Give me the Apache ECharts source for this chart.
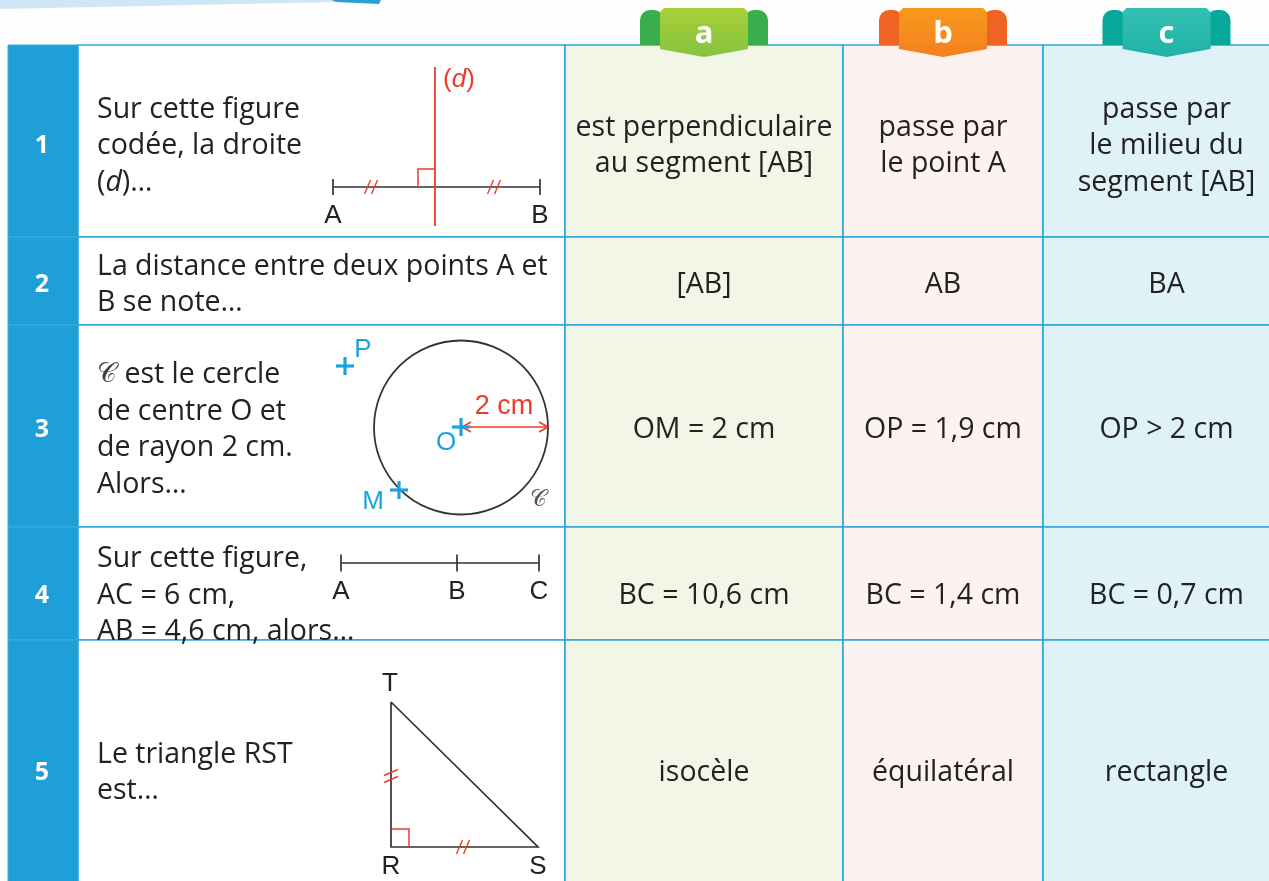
<!DOCTYPE html>
<html>
<head>
<meta charset="utf-8">
<script src="https://cdn.jsdelivr.net/npm/echarts@6/dist/echarts.min.js"></script>
<style>
html, body { margin: 0; padding: 0; background: #fff; }
#chart { width: 1269px; height: 881px; }
</style>
</head>
<body>
<div id="chart"></div>
<script>
// --- table content ---
const rowNumbers = ['1', '2', '3', '4', '5'];
const optionLetters = ['a', 'b', 'c'];
const questions = [
  ['Sur cette figure', 'codée, la droite', '({i|d})…'],
  ['La distance entre deux points A et', 'B se note…'],
  ['{s|𝒞} est le cercle', 'de centre O et', 'de rayon 2 cm.', 'Alors…'],
  ['Sur cette figure,', 'AC = 6 cm,', 'AB = 4,6 cm, alors…'],
  ['Le triangle RST', 'est…']
];
const answersA = [['est perpendiculaire', 'au segment [AB]'], ['[AB]'], ['OM = 2 cm'], ['BC = 10,6 cm'], ['isocèle']];
const answersB = [['passe par', 'le point A'], ['AB'], ['OP = 1,9 cm'], ['BC = 1,4 cm'], ['équilatéral']];
const answersC = [['passe par', 'le milieu du', 'segment [AB]'], ['BA'], ['OP > 2 cm'], ['BC = 0,7 cm'], ['rectangle']];

// --- figure geometry (in page units) ---
const fig1Segment = [[333, 187], [540, 187]];
const fig1Line = [[435, 67], [435, 226]];
const fig1Labels = [['A', 333, 216], ['B', 540, 216]];
const fig3Circle = [461, 427.5, 87];
const fig3Points = [['P', 345, 366], ['O', 461, 427], ['M', 399, 490]];
const fig3Labels = [['P', 363, 350], ['O', 446, 443], ['M', 373, 502]];
const fig4Points = [['A', 341, 563], ['B', 457, 563], ['C', 539, 563]];
const fig5Triangle = [[391, 702], [391, 847], [538, 847]];
const fig5Labels = [['T', 390, 684], ['R', 391, 867], ['S', 538, 867]];

// --- layout ---
const colEdges = [8, 78, 565, 843, 1043, 1290];
const rowEdges = [45, 237, 325, 527, 640, 906];
const colFills = ['#1e9fd8', '#ffffff', '#f2f6e6', '#fcf3f1', '#dff2f8'];
const gridColor = '#2ba6dd';
const textShift = [5, 4, 4, 12, 0];
const lineGap = 36.5;
const tabColors = [
  { flap: '#3aae4a', top: '#a8cf38', bottom: '#86c440' },
  { flap: '#f06323', top: '#f89a1c', bottom: '#f47f20' },
  { flap: '#05a89b', top: '#34c0b3', bottom: '#1fb2a6' }
];
const bodyFont = '"Open Sans", "Noto Sans", sans-serif';
const bodySize = '28.5px ';
const figFont = '"Liberation Sans", Arial, sans-serif';
const inkColor = '#222';
const red = '#ee3a2c';
const blue = '#1ba3dc';

const colCenter = c => (colEdges[c] + colEdges[c + 1]) / 2;
const rowCenter = r => (rowEdges[r] + rowEdges[r + 1]) / 2;

// cells
const cells = [];
for (let r = 0; r < rowNumbers.length; r++) {
  for (let c = 0; c < colEdges.length - 1; c++) cells.push([c, r]);
}

// texts
const texts = [];
const rich = {
  i: { font: 'italic ' + bodySize + bodyFont, fill: inkColor },
  s: { font: '27px "DejaVu Serif", serif', fill: '#444' }
};
function addLines(lines, x, r, align) {
  const mid = rowCenter(r) + textShift[r];
  lines.forEach((t, k) => {
    texts.push({ x, y: mid + (k - (lines.length - 1) / 2) * lineGap, text: t,
      font: bodySize + bodyFont, fill: inkColor, align, rich });
  });
}
rowNumbers.forEach((n, r) => {
  texts.push({ x: 42, y: rowCenter(r) + textShift[r], text: n,
    font: 'bold 25px ' + bodyFont, fill: '#fff', align: 'center' });
  addLines(questions[r], colEdges[1] + 19, r, 'left');
  addLines(answersA[r], colCenter(2), r, 'center');
  addLines(answersB[r], colCenter(3), r, 'center');
  addLines(answersC[r], colCenter(4), r, 'center');
});
function addLabel(t, x, y, fill, font) {
  texts.push({ x, y, text: t, font: font || ('26px ' + figFont), fill: fill || inkColor, align: 'center' });
}
fig1Labels.forEach(l => addLabel(l[0], l[1], l[2]));
texts.push({ x: 459, y: 80, text: '({i|d})', font: '26px ' + figFont, fill: red, align: 'center',
  rich: { i: { font: 'italic 26px ' + figFont, fill: red } } });
fig3Labels.forEach(l => addLabel(l[0], l[1], l[2], blue));
addLabel('2 cm', 504, 407, red, '27px ' + figFont);
addLabel('𝒞', 538, 500, '#555', '23px "DejaVu Serif", serif');
fig4Points.forEach(p => addLabel(p[0], p[1], p[2] + 29));
fig5Labels.forEach(l => addLabel(l[0], l[1], l[2]));

// shapes
const shapes = [];
const line = (pts, color, w) => shapes.push({ kind: 'polyline', pts, color: color || '#333', w: w || 1.7 });
const tick = (x, y, h) => line([[x, y - h], [x, y + h]]);
function hashX(cx, cy) { // two slanted strokes across a horizontal side
  [-3.5, 3.5].forEach(d => line([[cx + d - 3, cy + 7], [cx + d + 3, cy - 7]], red, 1.4));
}
function hashY(cx, cy) { // two slanted strokes across a vertical side
  [-3.5, 3.5].forEach(d => line([[cx - 7, cy + d + 3], [cx + 7, cy + d - 3]], red, 1.4));
}
// top decoration
shapes.push({ kind: 'polygon', pts: [[0, 0], [338, 0], [338, 2], [0, 9]], color: '#cfe7f4' });
shapes.push({ kind: 'polygon', pts: [[332, 0], [381, 0], [379, 4], [336, 2]], color: '#2a9fd6' });
// figure 1
line(fig1Segment);
fig1Segment.forEach(p => tick(p[0], p[1], 8));
line(fig1Line, red, 1.8);
line([[418, 187], [418, 169], [435, 169]], red, 1.5);
hashX(371, 187);
hashX(494, 187);
// figure 3
shapes.push({ kind: 'circle', cx: fig3Circle[0], cy: fig3Circle[1], r: fig3Circle[2], color: '#333', w: 1.8 });
line([[462, 427], [548, 427]], red, 1.6);
line([[471, 422], [462, 427], [471, 432]], red, 1.6);
line([[539, 422], [548, 427], [539, 432]], red, 1.6);
fig3Points.forEach(p => {
  line([[p[1] - 9, p[2]], [p[1] + 9, p[2]]], blue, 3.2);
  line([[p[1], p[2] - 9], [p[1], p[2] + 9]], blue, 3.2);
});
// figure 4
line([fig4Points[0].slice(1), fig4Points[2].slice(1)]);
fig4Points.forEach(p => tick(p[1], p[2], 8.5));
// figure 5
line(fig5Triangle.concat([fig5Triangle[0]]));
line([[391, 829], [409, 829], [409, 847]], red, 1.5);
hashY(391, 776);
hashX(463, 847);

const chart = echarts.init(document.getElementById('chart'));
chart.setOption({
  animation: false,
  backgroundColor: '#fefefe',
  grid: { left: 0, right: 0, top: 0, bottom: 0 },
  xAxis: { type: 'value', min: 0, max: 1269, show: false },
  yAxis: { type: 'value', min: 0, max: 881, inverse: true, show: false },
  series: [
    {
      type: 'custom', silent: true,
      data: cells,
      renderItem: (params, api) => {
        const [c, r] = cells[params.dataIndex];
        const p0 = api.coord([colEdges[c], rowEdges[r]]);
        const p1 = api.coord([colEdges[c + 1], rowEdges[r + 1]]);
        return {
          type: 'rect',
          shape: { x: p0[0], y: p0[1], width: p1[0] - p0[0], height: p1[1] - p0[1] },
          style: { fill: colFills[c], stroke: c === 0 ? '#39abe0' : gridColor, lineWidth: c === 0 ? 1 : 1.6 }
        };
      }
    },
    {
      type: 'custom', silent: true,
      data: shapes.map(s => s.pts ? s.pts[0] : [s.cx, s.cy]),
      renderItem: (params, api) => {
        const s = shapes[params.dataIndex];
        if (s.kind === 'circle') {
          const c = api.coord([s.cx, s.cy]);
          const r = api.size([s.r, 0])[0];
          return { type: 'circle', shape: { cx: c[0], cy: c[1], r },
            style: { fill: 'transparent', stroke: s.color, lineWidth: s.w } };
        }
        const pts = s.pts.map(p => api.coord(p));
        if (s.kind === 'polygon') return { type: 'polygon', shape: { points: pts }, style: { fill: s.color } };
        return { type: 'polyline', shape: { points: pts }, style: { stroke: s.color, lineWidth: s.w, fill: null } };
      }
    },
    {
      type: 'custom', silent: true,
      data: optionLetters.map((l, i) => [colCenter(i + 2), 8]),
      renderItem: (params, api) => {
        const i = params.dataIndex;
        const col = tabColors[i];
        const c = api.coord([api.value(0), api.value(1)]);
        const cx = c[0], top = c[1];
        return {
          type: 'group',
          children: [
            { type: 'rect', shape: { x: cx - 64, y: top + 2, width: 24, height: 35, r: [10, 10, 0, 0] }, style: { fill: col.flap } },
            { type: 'rect', shape: { x: cx + 40, y: top + 2, width: 24, height: 35, r: [10, 10, 0, 0] }, style: { fill: col.flap } },
            { type: 'polygon', shape: { points: [[cx - 44, top + 4], [cx - 40, top], [cx + 40, top], [cx + 44, top + 4],
              [cx + 44, top + 41], [cx, top + 49], [cx - 44, top + 41]] },
              style: { fill: new echarts.graphic.LinearGradient(0, 0, 0, 1, [
                { offset: 0, color: col.top }, { offset: 1, color: col.bottom }]) } },
            { type: 'text', x: cx, y: top + 26, style: { text: optionLetters[i], font: 'bold 31px ' + bodyFont,
              fill: '#fff', align: 'center', verticalAlign: 'middle' } }
          ]
        };
      }
    },
    {
      type: 'custom', silent: true,
      data: texts.map(t => [t.x, t.y]),
      renderItem: (params, api) => {
        const t = texts[params.dataIndex];
        const p = api.coord([api.value(0), api.value(1)]);
        return {
          type: 'text', x: p[0], y: p[1],
          style: { text: t.text, font: t.font, fill: t.fill, align: t.align, verticalAlign: 'middle', rich: t.rich }
        };
      }
    }
  ]
});
</script>
</body>
</html>
